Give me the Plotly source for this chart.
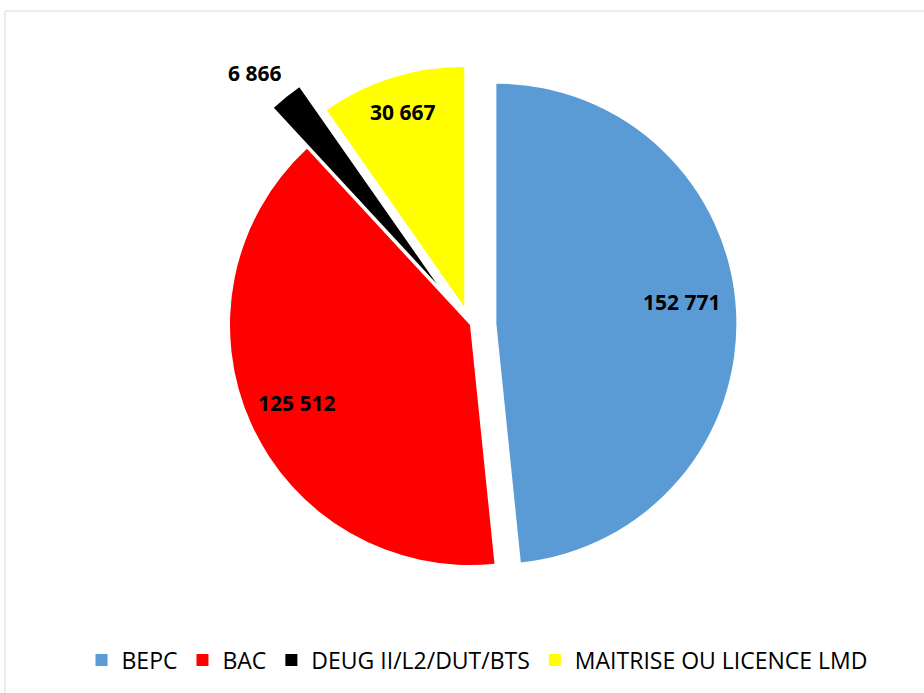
import math
import plotly.graph_objects as go

categories = ["BEPC", "BAC", "DEUG II/L2/DUT/BTS", "MAITRISE OU LICENCE LMD"]
values = [152771, 125512, 6866, 30667]
labels_text = ["152 771", "125 512", "6 866", "30 667"]
colors = ["#5B9BD5", "#FF0000", "#000000", "#FFFF00"]

# styling / layout (not data)
pulls = [0.11, 0.0, 0.22, 0.08]
label_radius = [0.78, 0.79, 1.16, 0.85]   # label distance beyond the slice tip, in radii
label_angle_nudge = [-3.2, 0.0, -1.7, 0.0]  # degrees

W, H = 924, 693
cx, cy = 470, 325          # pie centre, px
max_pull = max(pulls)
r = 240                    # pie radius, px
side = 2 * r * (1 + max_pull)

fig = go.Figure(go.Pie(
    labels=categories,
    values=values,
    textinfo="none",
    marker=dict(colors=colors, line=dict(width=0)),
    pull=pulls,
    sort=False,
    direction="clockwise",
    rotation=0,
    domain=dict(x=[(cx - side / 2) / W, (cx + side / 2) / W],
                y=[1 - (cy + side / 2) / H, 1 - (cy - side / 2) / H]),
    hoverinfo="label+value",
))

# data labels placed along each slice's bisector (angles derived from the values)
total = sum(values)
annotations = []
cum = 0.0
for v, txt, p, k, nd in zip(values, labels_text, pulls, label_radius, label_angle_nudge):
    mid = (cum + v / 2) / total * 2 * math.pi
    cum += v
    d = (p + k) * r
    a = mid + math.radians(nd)
    px = cx + d * math.sin(a)
    py = cy - d * math.cos(a)
    annotations.append(dict(
        x=px / W, y=1 - py / H, xref="paper", yref="paper",
        text=txt, showarrow=False, xanchor="center", yanchor="middle",
        font=dict(family="Open Sans", size=21, color="black", weight="bold"),
    ))

fig.update_layout(
    width=W, height=H,
    margin=dict(l=0, r=0, t=0, b=0, autoexpand=False),
    paper_bgcolor="white",
    plot_bgcolor="white",
    showlegend=True,
    legend=dict(orientation="h", x=477 / W, xanchor="center", y=1 - 660 / H, yanchor="middle",
                font=dict(family="Open Sans", size=23, color="black"),
                itemwidth=30, itemclick=False, itemdoubleclick=False),
    annotations=annotations,
    shapes=[dict(type="rect", xref="paper", yref="paper",
                 x0=5 / W, x1=1.02, y0=-0.02, y1=1 - 11 / H,
                 line=dict(color="#D9D9D9", width=1), fillcolor="rgba(0,0,0,0)")],
)

fig.write_html("out.html", config={"displayModeBar": False},
               post_script="document.body.style.margin='0px';")
